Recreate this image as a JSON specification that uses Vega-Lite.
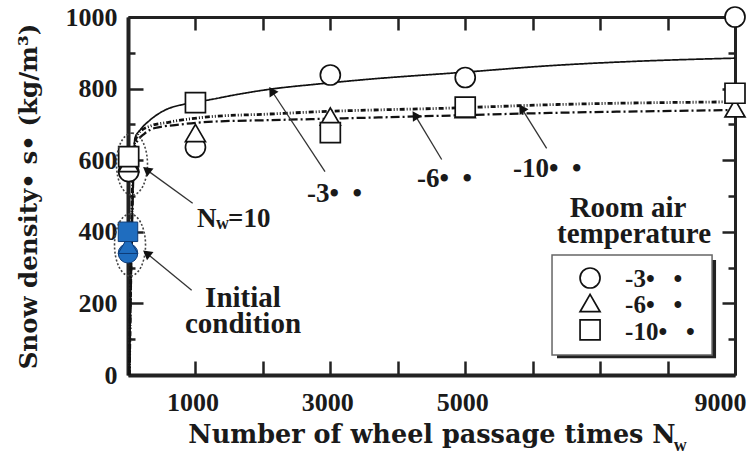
{
  "$schema": "https://vega.github.io/schema/vega-lite/v6.json",
  "width": 607,
  "height": 358,
  "autosize": {"type": "none"},
  "padding": {"left": 128, "top": 17, "right": 17, "bottom": 79},
  "background": "white",
  "config": {"view": {"stroke": null}, "font": "Liberation Serif"},
  "datasets": {
    "curves": [
      {"series": "-3", "N": 20, "rho": 0},
      {"series": "-3", "N": 104, "rho": 662},
      {"series": "-3", "N": 178, "rho": 684},
      {"series": "-3", "N": 326, "rho": 712},
      {"series": "-3", "N": 549, "rho": 740},
      {"series": "-3", "N": 845, "rho": 757},
      {"series": "-3", "N": 1186, "rho": 768},
      {"series": "-3", "N": 1660, "rho": 785},
      {"series": "-3", "N": 2135, "rho": 799},
      {"series": "-3", "N": 2773, "rho": 812},
      {"series": "-3", "N": 3500, "rho": 825},
      {"series": "-3", "N": 5000, "rho": 846},
      {"series": "-3", "N": 6257, "rho": 864},
      {"series": "-3", "N": 7500, "rho": 876},
      {"series": "-3", "N": 9000, "rho": 885},
      {"series": "-6", "N": 20, "rho": 0},
      {"series": "-6", "N": 104, "rho": 640},
      {"series": "-6", "N": 250, "rho": 675},
      {"series": "-6", "N": 400, "rho": 690},
      {"series": "-6", "N": 697, "rho": 698},
      {"series": "-6", "N": 1186, "rho": 707},
      {"series": "-6", "N": 2105, "rho": 712},
      {"series": "-6", "N": 2773, "rho": 715},
      {"series": "-6", "N": 4033, "rho": 721},
      {"series": "-6", "N": 6257, "rho": 732},
      {"series": "-6", "N": 9000, "rho": 740},
      {"series": "-10", "N": 20, "rho": 0},
      {"series": "-10", "N": 90, "rho": 640},
      {"series": "-10", "N": 178, "rho": 680},
      {"series": "-10", "N": 326, "rho": 695},
      {"series": "-10", "N": 600, "rho": 706},
      {"series": "-10", "N": 1186, "rho": 721},
      {"series": "-10", "N": 2105, "rho": 729},
      {"series": "-10", "N": 2773, "rho": 735},
      {"series": "-10", "N": 4850, "rho": 746},
      {"series": "-10", "N": 6257, "rho": 755},
      {"series": "-10", "N": 9000, "rho": 763}
    ],
    "points": [
      {"series": "-3", "N": 10, "rho": 568},
      {"series": "-3", "N": 1000, "rho": 636},
      {"series": "-3", "N": 3000, "rho": 838},
      {"series": "-3", "N": 5000, "rho": 831},
      {"series": "-3", "N": 9000, "rho": 1000},
      {"series": "-6", "N": 10, "rho": 592},
      {"series": "-6", "N": 1000, "rho": 676},
      {"series": "-6", "N": 3000, "rho": 722},
      {"series": "-6", "N": 5000, "rho": 743},
      {"series": "-6", "N": 9000, "rho": 745},
      {"series": "-10", "N": 10, "rho": 610},
      {"series": "-10", "N": 1000, "rho": 761},
      {"series": "-10", "N": 3000, "rho": 677},
      {"series": "-10", "N": 5000, "rho": 748},
      {"series": "-10", "N": 9000, "rho": 787}
    ],
    "initial": [
      {"series": "-3", "N": 0, "rho": 340},
      {"series": "-6", "N": 0, "rho": 363},
      {"series": "-10", "N": 0, "rho": 400}
    ],
    "ellipses": [
      {"N": 59, "rho": 589},
      {"N": 30, "rho": 363}
    ],
    "arrows": [
      {"grp": "a", "N": 277, "rho": 573, "N0": 959, "rho0": 480},
      {"grp": "a", "N": 277, "rho": 340, "N0": 944, "rho0": 237},
      {"grp": "b", "N": 2130, "rho": 794, "N0": 2921, "rho0": 568},
      {"grp": "b", "N": 4255, "rho": 726, "N0": 4651, "rho0": 602},
      {"grp": "b", "N": 5837, "rho": 745, "N0": 6207, "rho0": 633}
    ],
    "labels_left": [
      {"N": 1023, "rho": 413, "text": "N"},
      {"N": 1483, "rho": 413, "text": "=10"},
      {"N": 2654, "rho": 483, "text": "-3•\u00a0\u00a0•"},
      {"N": 4285, "rho": 525, "text": "-6•\u00a0\u00a0•"},
      {"N": 5709, "rho": 553, "text": "-10•\u00a0\u00a0•"}
    ],
    "labels_sub": [
      {"N": 1305, "rho": 408, "text": "w"},
      {"N": 8090, "rho": -212, "text": "w"}
    ],
    "labels_center": [
      {"N": 1705, "rho": 191, "text": "Initial"},
      {"N": 1705, "rho": 117, "text": "condition"},
      {"N": 7414, "rho": 441, "text": "Room air"},
      {"N": 7503, "rho": 369, "text": "temperature"}
    ],
    "legend_box": [
      {"part": "shadow", "N": 6361, "N2": 8719, "rho": 47, "rho2": 321},
      {"part": "box", "N": 6287, "N2": 8660, "rho": 56, "rho2": 335}
    ],
    "legend_items": [
      {"series": "-3", "label": "-3•\u00a0\u00a0\u00a0•", "N": 6851, "rho": 271, "Nt": 7370, "rhot": 246},
      {"series": "-6", "label": "-6•\u00a0\u00a0\u00a0•", "N": 6851, "rho": 201, "Nt": 7370, "rhot": 173},
      {"series": "-10", "label": "-10•\u00a0\u00a0\u00a0•", "N": 6851, "rho": 126, "Nt": 7370, "rhot": 98}
    ]
  },
  "layer": [
    {
      "data": {"name": "curves"},
      "mark": {"type": "line", "color": "#111", "interpolate": "monotone"},
      "encoding": {
        "x": {
          "field": "N", "type": "quantitative",
          "scale": {"domain": [0, 9000], "nice": false, "zero": false},
          "axis": {
            "orient": "bottom",
            "values": [0, 1000, 2000, 3000, 4000, 5000, 6000, 7000, 8000, 9000],
            "format": "d",
            "labelExpr": "indexof([1000, 3000, 5000, 9000], datum.value) >= 0 ? datum.label : ''",
            "labelOffset": {"condition": {"test": "datum.value === 9000", "value": -15}, "value": -3},
            "grid": false,
            "domainColor": "#222", "domainWidth": 4,
            "tickColor": "#222", "tickWidth": 2.5, "tickSize": -14,
            "labelFont": "Liberation Serif", "labelFontSize": 26, "labelFontWeight": "bold", "labelColor": "#1a1a1a",
            "labelPadding": 28, "labelFlush": false,
            "title": "Number of wheel passage times N",
            "titleFont": "DejaVu Serif", "titleFontSize": 25.5, "titleFontWeight": "bold", "titleColor": "#1a1a1a",
            "titlePadding": 7
          }
        },
        "y": {
          "field": "rho", "type": "quantitative",
          "scale": {"domain": [0, 1000], "nice": false},
          "axis": {
            "orient": "left",
            "values": [0, 100, 200, 300, 400, 500, 600, 700, 800, 900, 1000],
            "format": "d",
            "labelExpr": "datum.value % 200 === 0 ? datum.label : ''",
            "grid": false,
            "domainColor": "#222", "domainWidth": 4,
            "tickColor": "#222", "tickWidth": 2.5,
            "tickSize": {"condition": {"test": "datum.value % 200 === 0", "value": -15}, "value": -7},
            "labelFont": "Liberation Serif", "labelFontSize": 26, "labelFontWeight": "bold", "labelColor": "#1a1a1a",
            "labelPadding": 26, "labelFlush": false,
            "title": "Snow density• s• (kg/m³)",
            "titleFont": "DejaVu Serif", "titleFontSize": 24.5, "titleFontWeight": "bold", "titleColor": "#1a1a1a",
            "titlePadding": 24
          }
        },
        "detail": {"field": "series"},
        "strokeDash": {
          "field": "series", "type": "nominal",
          "scale": {"domain": ["-3", "-6", "-10"], "range": [[1, 0], [9, 3, 2, 3], [5, 2, 1, 2, 1, 2]]},
          "legend": null
        },
        "strokeWidth": {
          "field": "series", "type": "nominal",
          "scale": {"domain": ["-3", "-6", "-10"], "range": [1.7, 2.8, 2.2]},
          "legend": null
        }
      }
    },
    {
      "data": {"name": "points"},
      "mark": {"type": "point", "filled": false, "fill": "white", "fillOpacity": 1, "stroke": "#111", "strokeWidth": 1.7, "size": 400, "opacity": 1},
      "encoding": {
        "x": {
          "field": "N", "type": "quantitative",
          "axis": {
            "orient": "top",
            "values": [0, 1000, 2000, 3000, 4000, 5000, 6000, 7000, 8000, 9000],
            "labels": false, "title": null, "grid": false,
            "domainColor": "#222", "domainWidth": 3,
            "tickColor": "#222", "tickWidth": 2.5, "tickSize": -13
          }
        },
        "y": {
          "field": "rho", "type": "quantitative",
          "axis": {
            "orient": "right",
            "values": [0, 100, 200, 300, 400, 500, 600, 700, 800, 900, 1000],
            "labels": false, "title": null, "grid": false,
            "domainColor": "#222", "domainWidth": 3,
            "tickColor": "#222", "tickWidth": 2.5,
            "tickSize": {"condition": {"test": "datum.value % 200 === 0", "value": -13}, "value": -7}
          }
        },
        "shape": {
          "field": "series", "type": "nominal",
          "scale": {"domain": ["-3", "-6", "-10"], "range": ["circle", "triangle-up", "square"]},
          "legend": null
        }
      }
    },
    {
      "data": {"name": "initial"},
      "mark": {"type": "point", "filled": true, "fill": "#1f6dbf", "stroke": "#0e3c78", "strokeWidth": 1, "size": 380, "opacity": 1},
      "encoding": {
        "x": {"field": "N", "type": "quantitative", "axis": null},
        "y": {"field": "rho", "type": "quantitative", "axis": null},
        "shape": {"field": "series", "type": "nominal", "legend": null}
      }
    },
    {
      "data": {"name": "ellipses"},
      "mark": {"type": "point", "shape": "M0,-1A0.5,1,0,1,1,0,1A0.5,1,0,1,1,0,-1Z", "size": 3844, "filled": false, "stroke": "#444", "strokeWidth": 1.6, "strokeDash": [2, 2], "opacity": 1},
      "encoding": {
        "x": {"field": "N", "type": "quantitative", "axis": null},
        "y": {"field": "rho", "type": "quantitative", "axis": null}
      }
    },
    {
      "data": {"name": "arrows"},
      "mark": {"type": "rule", "color": "#333", "strokeWidth": 1.3},
      "encoding": {
        "x": {"field": "N0", "type": "quantitative", "axis": null},
        "y": {"field": "rho0", "type": "quantitative", "axis": null},
        "x2": {"field": "N"},
        "y2": {"field": "rho"}
      }
    },
    {
      "data": {"name": "arrows"},
      "transform": [{"filter": "datum.grp === 'a'"}],
      "mark": {"type": "point", "shape": "triangle-up", "filled": true, "color": "#111", "size": 110, "angle": -52, "opacity": 1},
      "encoding": {
        "x": {"field": "N", "type": "quantitative", "axis": null},
        "y": {"field": "rho", "type": "quantitative", "axis": null}
      }
    },
    {
      "data": {"name": "arrows"},
      "transform": [{"filter": "datum.grp === 'b'"}],
      "mark": {"type": "point", "shape": "triangle-up", "filled": true, "color": "#111", "size": 110, "angle": -32, "opacity": 1},
      "encoding": {
        "x": {"field": "N", "type": "quantitative", "axis": null},
        "y": {"field": "rho", "type": "quantitative", "axis": null}
      }
    },
    {
      "data": {"name": "labels_left"},
      "mark": {"type": "text", "align": "left", "baseline": "alphabetic", "font": "Liberation Serif", "fontSize": 27, "fontWeight": "bold", "color": "#1a1a1a"},
      "encoding": {
        "x": {"field": "N", "type": "quantitative", "axis": null},
        "y": {"field": "rho", "type": "quantitative", "axis": null},
        "text": {"field": "text"}
      }
    },
    {
      "data": {"name": "labels_sub"},
      "mark": {"type": "text", "align": "left", "baseline": "alphabetic", "font": "Liberation Serif", "fontSize": 18, "fontWeight": "bold", "color": "#1a1a1a"},
      "encoding": {
        "x": {"field": "N", "type": "quantitative", "axis": null},
        "y": {"field": "rho", "type": "quantitative", "axis": null},
        "text": {"field": "text"}
      }
    },
    {
      "data": {"name": "labels_center"},
      "mark": {"type": "text", "align": "center", "baseline": "alphabetic", "font": "Liberation Serif", "fontSize": 29, "fontWeight": "bold", "color": "#1a1a1a"},
      "encoding": {
        "x": {"field": "N", "type": "quantitative", "axis": null},
        "y": {"field": "rho", "type": "quantitative", "axis": null},
        "text": {"field": "text"}
      }
    },
    {
      "data": {"name": "legend_box"},
      "transform": [{"filter": "datum.part === 'shadow'"}],
      "mark": {"type": "rect", "color": "#222"},
      "encoding": {
        "x": {"field": "N", "type": "quantitative", "axis": null},
        "x2": {"field": "N2"},
        "y": {"field": "rho", "type": "quantitative", "axis": null},
        "y2": {"field": "rho2"}
      }
    },
    {
      "data": {"name": "legend_box"},
      "transform": [{"filter": "datum.part === 'box'"}],
      "mark": {"type": "rect", "fill": "white", "stroke": "#666", "strokeWidth": 1.5},
      "encoding": {
        "x": {"field": "N", "type": "quantitative", "axis": null},
        "x2": {"field": "N2"},
        "y": {"field": "rho", "type": "quantitative", "axis": null},
        "y2": {"field": "rho2"}
      }
    },
    {
      "data": {"name": "legend_items"},
      "mark": {"type": "point", "filled": false, "fill": "white", "fillOpacity": 1, "stroke": "#111", "strokeWidth": 1.7, "size": 400, "opacity": 1},
      "encoding": {
        "x": {"field": "N", "type": "quantitative", "axis": null},
        "y": {"field": "rho", "type": "quantitative", "axis": null},
        "shape": {"field": "series", "type": "nominal", "legend": null}
      }
    },
    {
      "data": {"name": "legend_items"},
      "mark": {"type": "text", "align": "left", "baseline": "alphabetic", "font": "Liberation Serif", "fontSize": 25, "fontWeight": "bold", "color": "#1a1a1a"},
      "encoding": {
        "x": {"field": "Nt", "type": "quantitative", "axis": null},
        "y": {"field": "rhot", "type": "quantitative", "axis": null},
        "text": {"field": "label"}
      }
    }
  ],
  "resolve": {"axis": {"x": "independent", "y": "independent"}}
}
